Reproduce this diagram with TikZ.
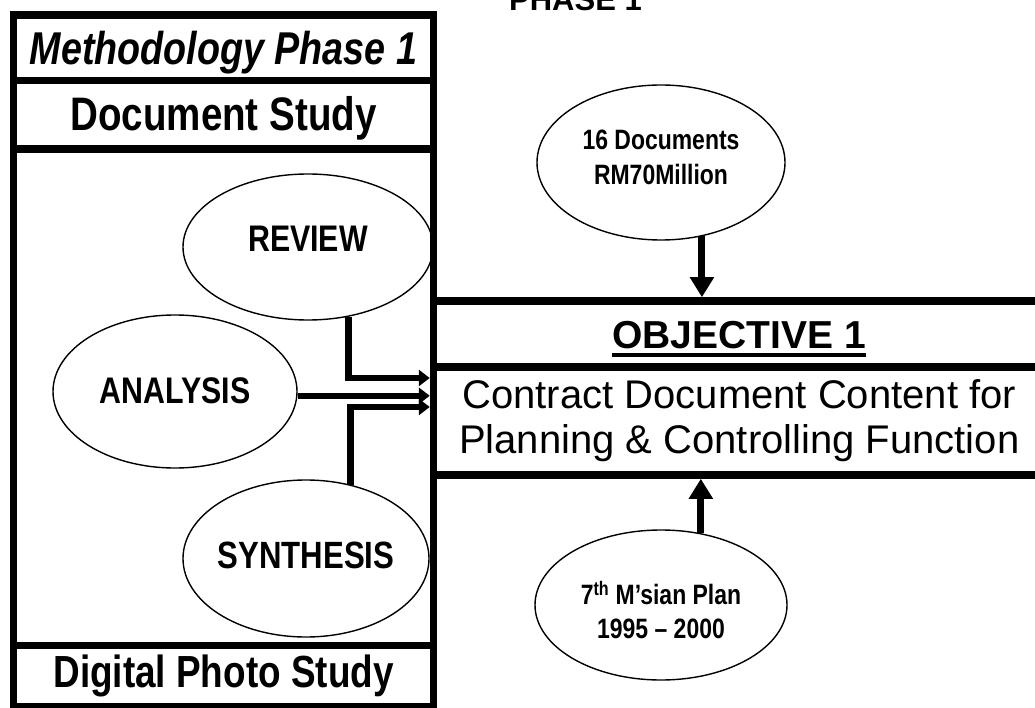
\documentclass[tikz,border=0pt]{standalone}
\usepackage{fontspec}
\setmainfont{Liberation Sans}
\newfontfamily\narrowf{Liberation Sans}[FakeStretch=0.82]
\usetikzlibrary{shapes.geometric,arrows.meta}
\newcommand\objul[1]{\setbox0\hbox{#1}\rlap{\rule[-9pt]{\wd0}{4pt}}\box0}
\begin{document}
\begin{tikzpicture}[x=1pt,y=-1pt,
  frame/.style={draw,line width=7.5pt,rectangle,inner sep=0pt},
  ell/.style={draw,ellipse,line width=1.4pt,inner sep=0pt},
  conn/.style={line width=6.5pt,-{Triangle[length=11pt,width=16pt]}},
  bigarrow/.style={line width=7pt,-{Triangle[length=20pt,width=23pt]}},
  elabel/.style={font=\narrowf\bfseries\fontsize{37}{40}\selectfont,anchor=base,inner sep=0pt},
  stext/.style={align=center,inner sep=0pt},
]
\useasboundingbox (0,0) rectangle (1035,708);

% left column
\node[frame,minimum width=420pt,minimum height=65.5pt,text height=34.5pt,text depth=0pt,
  font=\narrowf\bfseries\itshape\fontsize{46}{50}\selectfont] (meth) at (223.5,47.75) {Methodology Phase 1};
\node[frame,minimum width=420pt,minimum height=68.5pt,text height=32.5pt,text depth=0pt,
  font=\narrowf\bfseries\fontsize{47}{50}\selectfont] (docstudy) at (223.5,114.75) {Document Study};
\node[frame,minimum width=420pt,minimum height=496.5pt] (mid) at (223.5,397.25) {};
\node[frame,minimum width=420pt,minimum height=61.5pt,text height=21.5pt,text depth=0pt,
  font=\narrowf\bfseries\fontsize{45}{50}\selectfont] (digital) at (223.5,676.25) {Digital Photo Study};

% objective box
\node[frame,minimum width=611.5pt,minimum height=66pt,text height=28pt,text depth=0pt,
  font=\bfseries\fontsize{39}{42}\selectfont] (obj) at (739.25,334) {\objul{OBJECTIVE 1}};
\node[frame,minimum width=611.5pt,minimum height=108pt,align=center,
  font=\fontsize{40}{45}\selectfont] (content) at (739.25,421) {Contract Document Content for\\Planning \& Controlling Function};

% title
\node[font=\bfseries\fontsize{31}{34}\selectfont,anchor=base,inner sep=0pt] (phase) at (575.5,10.5) {PHASE 1};

% ellipses
\node[ell,minimum width=250pt,minimum height=146pt] (review) at (308,247) {};
\node[elabel] (reviewt) at (308,252) {REVIEW};
\node[ell,minimum width=244pt,minimum height=153pt] (analysis) at (175,391.5) {};
\node[elabel] (analysist) at (175,403) {ANALYSIS};
\node[ell,minimum width=246pt,minimum height=157pt] (synth) at (306,558.5) {};
\node[elabel,font=\narrowf\bfseries\fontsize{38}{40}\selectfont] (syntht) at (306,568) {SYNTHESIS};

\node[ell,minimum width=248pt,minimum height=155pt] (docs) at (661,162.5) {};
\node[stext,font=\narrowf\bfseries\fontsize{28}{35}\selectfont] (docst) at (661,157.5) {16 Documents\\RM70Million};
\node[ell,minimum width=252pt,minimum height=150pt] (plan) at (661,605) {};
\node[stext,font=\narrowf\bfseries\fontsize{28}{34}\selectfont] (plant) at (661,610) {7\textsuperscript{th} M’sian Plan\\1995 – 2000};

% arrow tips on the objective box
\coordinate (tipR) at (429.75,378);
\coordinate (tipA) at (429.75,395);
\coordinate (tipS) at (429.75,407);

\draw[conn] (review.300.7) |- (tipR);
\draw[conn] (analysis.358.4) -- (analysis.358.4 -| tipA);
\draw[conn] (synth.59) |- (tipS);
\draw[bigarrow] (docs.299.3) -- (docs.299.3 |- obj.north);
\draw[bigarrow] (plan.61.3) -- (plan.61.3 |- content.south);
\end{tikzpicture}
\end{document}
